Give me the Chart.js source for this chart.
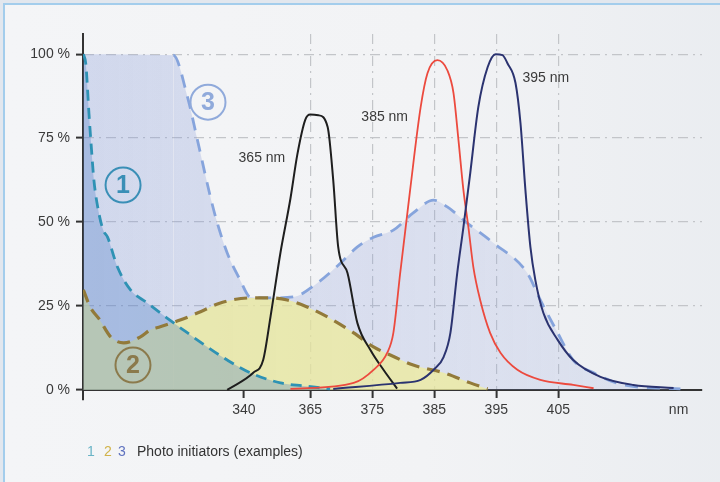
<!DOCTYPE html>
<html><head><meta charset="utf-8">
<script src="https://cdn.jsdelivr.net/npm/chart.js@4.4.1/dist/chart.umd.min.js"></script>
<style>
html,body{margin:0;padding:0;width:720px;height:482px;overflow:hidden;background:#e2e7ee;}
#frame{position:absolute;left:3px;top:3px;width:760px;height:520px;border-top:2px solid #a3cdec;border-left:2px solid #a3cdec;background:linear-gradient(to right,#f4f5f7 0%,#f2f3f5 55%,#e9ecf0 100%);}
canvas{position:absolute;left:0;top:0;}
</style></head><body>
<div id="frame"></div>
<canvas id="c" width="720" height="482"></canvas>
<script>
// Axis ticks (x positions on the drawn wavelength scale; 340 sits on a compressed left part)
const xTickValues = [354.3, 365, 375, 385, 395, 405, 424.4];
const xTickLabels = ['340', '365', '375', '385', '395', '405', 'nm'];
const yTickValues = [0, 25, 50, 75, 100];

// Photo initiator 1 (teal dashed)
const pi1X = [328.4, 328.8, 329.3, 329.6, 330.1, 330.8, 331.6, 332.3, 333.9, 336.0, 338.7, 341.9, 344.5, 348.4, 351.6, 355.3, 360.2, 363.9, 368.2];
const pi1Y = [100, 97, 82.4, 74.4, 62.5, 53.6, 47.6, 45.5, 36.6, 29.8, 25.9, 21.4, 17.9, 12.8, 8.9, 5.1, 2.1, 1.2, 0.3];

// Photo initiator 2 (brown dashed)
const pi2X = [328.4, 329.5, 331.0, 332.8, 334.9, 337.6, 339.2, 340.8, 344.0, 347.3, 350.5, 355.3, 358.6, 361.3, 364.5, 367.8, 372.0, 375.2, 377.9, 381.6, 386.5, 390.8, 393.6];
const pi2Y = [29.8, 24.7, 21.0, 15.8, 14.0, 15.8, 17.9, 18.8, 20.8, 23.3, 25.9, 27.4, 27.4, 26.8, 24.7, 21.7, 17.0, 12.8, 10.4, 7.4, 5.1, 2.1, 0.3];

// Photo initiator 3 (light blue dashed)
const pi3X = [328.4, 342.9, 345.2, 346.8, 348.9, 350.0, 351.6, 353.7, 355.3, 358.6, 362.3, 366.1, 369.9, 372.6, 375.2, 378.4, 381.6, 384.9, 387.1, 390.3, 394.5, 400.0, 402.1, 404.9, 407.4, 410.7, 415.5, 424.7];
const pi3Y = [100, 99.7, 87.2, 74.4, 57.4, 49.7, 40.8, 32.7, 27.7, 27.4, 27.7, 31.8, 37.8, 42.6, 45.5, 47.6, 52.7, 56.5, 54.5, 49.7, 43.8, 34.8, 26.8, 17.0, 8.9, 5.1, 1.5, 0.3];

// LED 365 nm (black)
const led365X = [351.6, 355.8, 357.4, 358.6, 360.2, 361.8, 362.9, 364.2, 365.0, 366.3, 367.8, 368.7, 369.5, 371.0, 372.6, 374.7, 376.8, 379.0];
const led365Y = [0, 5.1, 8.9, 22, 41, 57, 70, 80.5, 82, 81.8, 78.3, 62.5, 42.6, 34.8, 19.9, 11.9, 6.0, 0.4];

// LED 385 nm (red)
const led385X = [361.8, 372.0, 375.2, 377.4, 378.4, 379.5, 381.1, 382.8, 383.9, 385.5, 387.1, 388.1, 388.9, 389.7, 390.5, 391.3, 392.4, 394.0, 395.7, 398.4, 402.1, 407.4, 410.7];
const led385Y = [0.3, 2.1, 6.0, 11.0, 17.0, 34.8, 59.5, 84.2, 94.3, 98.2, 95.2, 88.4, 74.4, 59.5, 48.5, 36.6, 26.8, 17.0, 11.0, 6.0, 3.0, 1.5, 0.5];

// LED 395 nm (navy)
const led395X = [368.7, 379.5, 382.8, 384.9, 386.5, 387.6, 388.7, 389.7, 390.8, 392.1, 393.6, 394.9, 396.0, 396.8, 398.1, 398.9, 399.7, 400.5, 401.3, 402.6, 404.9, 407.4, 411.8, 417.1, 423.6];
const led395Y = [0.3, 2.1, 3.0, 6.0, 9.8, 17.0, 34.8, 48.5, 64.6, 84.2, 96.1, 100, 99.7, 97.3, 91.4, 79.5, 59.5, 42.6, 32.7, 22.9, 14.9, 8.9, 3.9, 1.5, 0.6];

// Text annotations
const peakLabels = ['365 nm', '385 nm', '395 nm'];
const peakLabelX = [357.2, 377.0, 403.0];
const peakLabelY = [69.0, 81.3, 92.9];
const circleLabels = ['1', '2', '3'];
const circleX = [334.8, 336.4, 348.5];
const circleY = [61.0, 7.4, 85.7];
const circleColors = ['#3a8fb6', '#8b7a4c', '#90aadb'];
const legendDigits = ['1', '2', '3'];
const legendDigitColors = ['#6ab4c6', '#d1b34a', '#5f72bf'];
const legendText = 'Photo initiators (examples)';

const FONT = '"Liberation Sans", Arial, sans-serif';
const pts = (xs, ys) => xs.map((v, i) => ({x: v, y: ys[i]}));

const annot = {
  id: 'annot',
  afterDatasetsDraw(chart) {
    const {ctx, scales: {x, y}} = chart;
    ctx.save();
    ctx.font = '14px ' + FONT;
    ctx.fillStyle = '#3a3a3a';
    ctx.textAlign = 'center';
    ctx.textBaseline = 'middle';
    peakLabels.forEach((t, i) => ctx.fillText(t, x.getPixelForValue(peakLabelX[i]), y.getPixelForValue(peakLabelY[i])));
    circleLabels.forEach((t, i) => {
      const cx = x.getPixelForValue(circleX[i]), cy = y.getPixelForValue(circleY[i]);
      ctx.beginPath();
      ctx.arc(cx, cy, 17.5, 0, Math.PI * 2);
      ctx.strokeStyle = circleColors[i];
      ctx.lineWidth = 2;
      ctx.stroke();
      ctx.fillStyle = circleColors[i];
      ctx.font = 'bold 25px ' + FONT;
      ctx.fillText(t, cx, cy + 1);
    });
    ctx.restore();
  },
  afterDraw(chart) {
    const ctx = chart.ctx;
    ctx.save();
    ctx.font = '14px ' + FONT;
    ctx.textBaseline = 'middle';
    ctx.textAlign = 'center';
    const dx = [91, 108, 122];
    legendDigits.forEach((d, i) => { ctx.fillStyle = legendDigitColors[i]; ctx.fillText(d, dx[i], 452); });
    ctx.textAlign = 'left';
    ctx.fillStyle = '#333';
    ctx.fillText(legendText, 137, 452);
    ctx.restore();
  }
};

const dashed = (label, xs, ys, color, fillColor, dash, width, order, hideFirst) => ({
  label, data: pts(xs, ys), borderColor: color, borderWidth: width, borderDash: dash,
  backgroundColor: fillColor, fill: 'origin', pointRadius: 0, cubicInterpolationMode: 'monotone', order,
  segment: hideFirst ? {borderColor: s => s.p0DataIndex === 0 ? 'rgba(0,0,0,0)' : undefined} : undefined
});
const solid = (label, xs, ys, color, width, order) => ({
  label, data: pts(xs, ys), borderColor: color, borderWidth: width, fill: false,
  pointRadius: 0, cubicInterpolationMode: 'monotone', order
});

const pi3Fill = (c) => {
  const ca = c.chart.chartArea;
  if (!ca) return 'rgba(130,150,215,0.3)';
  const g = c.chart.ctx.createLinearGradient(ca.left, 0, ca.right, 0);
  g.addColorStop(0, 'rgba(130,150,215,0.30)');
  g.addColorStop(0.3, 'rgba(130,150,215,0.25)');
  g.addColorStop(1, 'rgba(130,150,215,0.13)');
  return g;
};

new Chart(document.getElementById('c'), {
  type: 'line',
  data: {
    datasets: [
      solid('395 nm', led395X, led395Y, '#2b3370', 2, 1),
      solid('385 nm', led385X, led385Y, '#ec4a3e', 1.8, 2),
      solid('365 nm', led365X, led365Y, '#1e1e1e', 2, 3),
      dashed('1', pi1X, pi1Y, '#2e92b4', 'rgba(65,120,195,0.30)', [11, 7], 2.8, 4, false),
      dashed('2', pi2X, pi2Y, '#927a3a', 'rgba(240,236,150,0.70)', [13, 8], 3.2, 5, false),
      dashed('3', pi3X, pi3Y, '#86a4dc', pi3Fill, [13, 9], 2.8, 6, true)
    ]
  },
  options: {
    responsive: false,
    animation: false,
    layout: {padding: {left: 0, right: 18, top: 34, bottom: 82}},
    plugins: {legend: {display: false}, tooltip: {enabled: false}, filler: {drawTime: 'beforeDatasetsDraw'}},
    scales: {
      x: {
        type: 'linear', min: 328.34, max: 428.18, position: {y: 0},
        afterFit: s => { s.height = 0; },
        afterBuildTicks: s => { s.ticks = xTickValues.map(v => ({value: v})); },
        ticks: {autoSkip: false, maxRotation: 0, padding: 5, color: '#3a3a3a', font: {size: 14, family: FONT},
                callback: (v, i) => xTickLabels[i]},
        grid: {
          color: c => (c.tick && (c.tick.value < 360 || c.tick.value > 410)) ? 'rgba(0,0,0,0)' : '#c3c5c9',
          lineWidth: 1.2, tickLength: 7, tickWidth: 2,
          tickColor: c => (c.tick && c.tick.value > 410) ? 'rgba(0,0,0,0)' : '#333'
        },
        border: {display: true, color: '#333', width: 2, dash: [10, 5, 2, 5]}
      },
      y: {
        type: 'linear', min: -3, max: 106, position: 'left',
        afterFit: s => { s.width = 83; },
        afterBuildTicks: s => { s.ticks = yTickValues.map(v => ({value: v})); },
        ticks: {padding: 6, color: '#3a3a3a', font: {size: 14, family: FONT}, callback: v => v + ' %'},
        grid: {
          color: c => (c.tick && c.tick.value === 0) ? 'rgba(0,0,0,0)' : '#c3c5c9',
          lineWidth: 1.2, tickLength: 7, tickWidth: 2, tickColor: '#333'
        },
        border: {display: true, color: '#333', width: 2, dash: [10, 5, 2, 5]}
      }
    }
  },
  plugins: [annot]
});
</script>
</body></html>
